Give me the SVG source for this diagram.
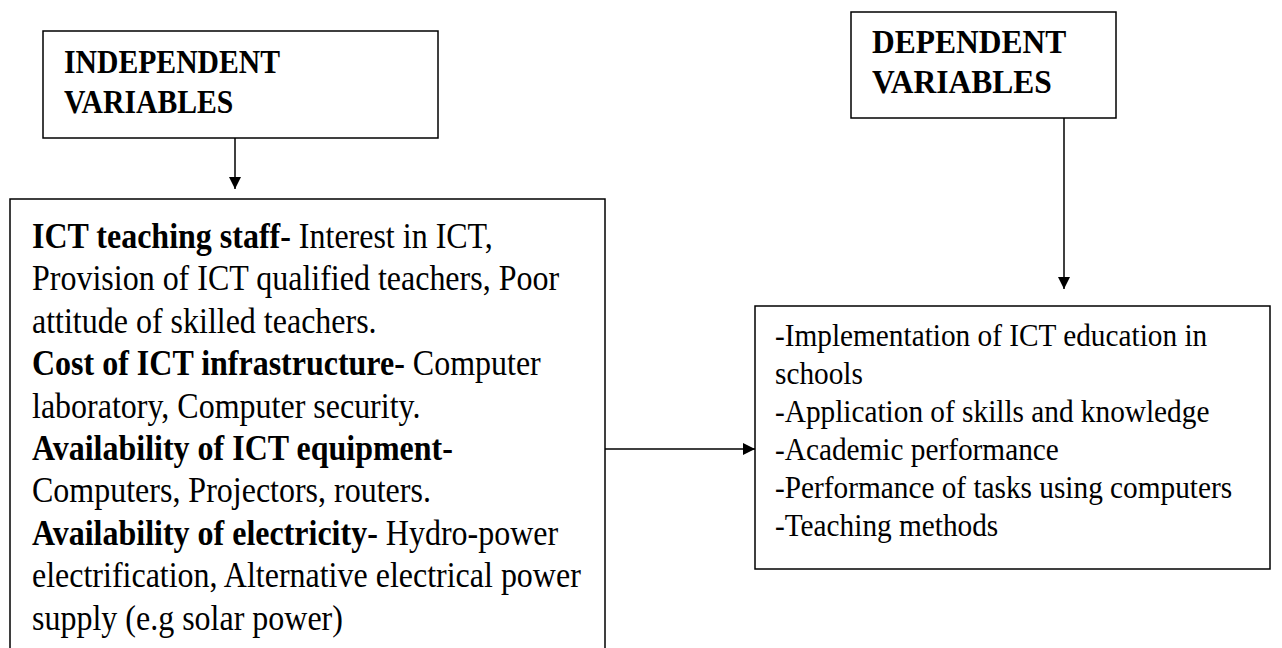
<svg xmlns="http://www.w3.org/2000/svg" width="1282" height="648" viewBox="0 0 1282 648">
<style>
.box{fill:#fff;stroke:#000;stroke-width:1.5}
.t{font-family:"Liberation Serif","Times New Roman",serif;fill:#000}
.h{font-size:29.7px;font-weight:bold}
.hr{font-size:31.5px;font-weight:bold}
.l{font-size:32px}
.r{font-size:29.3px}
.b{font-weight:bold}
.c{stroke:#000;stroke-width:1.5;fill:none}
</style>
<defs>
<marker id="ah" viewBox="0 0 10 10" refX="10" refY="5" markerWidth="12" markerHeight="12" markerUnits="userSpaceOnUse" orient="auto">
<path d="M0,0 L10,5 L0,10 z" fill="#000"/>
</marker>
</defs>
<rect width="1282" height="648" fill="#fff"/>
<g id="independent">
<rect class="box" x="43" y="31" width="395" height="107"/>
<g class="t h" transform="translate(64,72.7) scale(1,1.12)">
<text x="0" y="0">INDEPENDENT</text>
<text x="0" y="36.2">VARIABLES</text>
</g>
</g>
<g id="dependent">
<rect class="box" x="851" y="12" width="265" height="106"/>
<g class="t hr" transform="translate(872,53.3) scale(1,1.05)">
<text x="0" y="0">DEPENDENT</text>
<text x="0" y="37.5">VARIABLES</text>
</g>
</g>
<g id="factors">
<rect class="box" x="10" y="199" width="595" height="470"/>
<g class="t l" transform="translate(32,248) scale(1,1.15)">
<text x="0" y="0"><tspan class="b">ICT teaching staff-</tspan> Interest in ICT,</text>
<text x="0" y="36.87">Provision of ICT qualified teachers, Poor</text>
<text x="0" y="73.74">attitude of skilled teachers.</text>
<text x="0" y="110.61"><tspan class="b">Cost of ICT infrastructure-</tspan> Computer</text>
<text x="0" y="147.48">laboratory, Computer security.</text>
<text x="0" y="184.35" class="b">Availability of ICT equipment-</text>
<text x="0" y="221.22">Computers, Projectors, routers.</text>
<text x="0" y="258.09"><tspan class="b">Availability of electricity-</tspan> Hydro-power</text>
<text x="0" y="294.96">electrification, Alternative electrical power</text>
<text x="0" y="331.83">supply (e.g solar power)</text>
</g>
</g>
<g id="outcomes">
<rect class="box" x="755" y="306" width="515" height="263"/>
<g class="t r" transform="translate(775,346) scale(1,1.05)">
<text x="0" y="0">-Implementation of ICT education in</text>
<text x="0" y="36.19">schools</text>
<text x="0" y="72.38">-Application of skills and knowledge</text>
<text x="0" y="108.57">-Academic performance</text>
<text x="0" y="144.76">-Performance of tasks using computers</text>
<text x="0" y="180.95">-Teaching methods</text>
</g>
</g>
<g id="connectors">
<line class="c" x1="235" y1="138" x2="235" y2="189" marker-end="url(#ah)"/>
<line class="c" x1="1064" y1="118" x2="1064" y2="289" marker-end="url(#ah)"/>
<line class="c" x1="605" y1="449" x2="755" y2="449" marker-end="url(#ah)"/>
</g>
</svg>
